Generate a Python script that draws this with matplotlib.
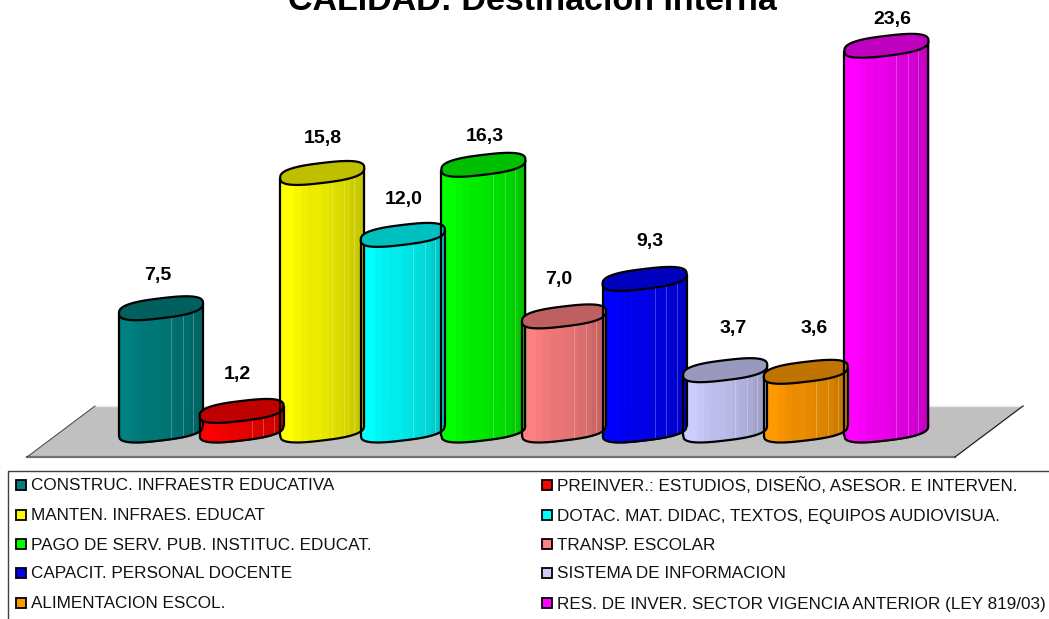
import numpy as np
import matplotlib
matplotlib.use("Agg")
from matplotlib import pyplot as plt
from matplotlib.colors import to_rgb

plt.rcParams['font.family'] = ['Liberation Sans', 'DejaVu Sans']

title = "CALIDAD: Destinación Interna"
categories = [
    "CONSTRUC. INFRAESTR EDUCATIVA",
    "PREINVER.: ESTUDIOS, DISEÑO, ASESOR. E INTERVEN.",
    "MANTEN. INFRAES. EDUCAT",
    "DOTAC. MAT. DIDAC, TEXTOS, EQUIPOS AUDIOVISUA.",
    "PAGO DE SERV. PUB. INSTITUC. EDUCAT.",
    "TRANSP. ESCOLAR",
    "CAPACIT. PERSONAL DOCENTE",
    "SISTEMA DE INFORMACION",
    "ALIMENTACION ESCOL.",
    "RES. DE INVER. SECTOR VIGENCIA ANTERIOR (LEY 819/03)",
]
values = [7.5, 1.2, 15.8, 12.0, 16.3, 7.0, 9.3, 3.7, 3.6, 23.6]
colors = ["#008080", "#FF0000", "#FFFF00", "#00FFFF", "#00FF00",
          "#FF8080", "#0000FF", "#CCCCFF", "#FF9900", "#FF00FF"]
# hand placed label shifts, pixels from the top of each bar
label_dx = [-3, -4, 1, 1, 1, -5, 5, 8, 8, 6]
label_dy = [33, 36, 34, 35, 28, 37, 37, 42, 43, 26]

W, H = 1049, 619
X0, DX = 161.0, 80.6     # pixel of first bar, pixels per bar
Y0, DY = 430.5, 16.3     # pixel of value 0, pixels per unit

HALF_W = 42.0 / DX
B = 10.0 / DY
TILT = 5.0 / DY
P = 2.7

shades = [1.0, 1.0, 0.97, 0.94, 0.92, 0.92, 0.9, 0.88, 0.86, 0.84, 0.8, 0.78]


def lower_rim(x):
    u = np.clip(np.abs(x) / HALF_W, 0, 1)
    return TILT * x / HALF_W - B * (1 - u ** P) ** (1 / P)


def section():
    """Closed outline of the tilted bar section."""
    t = np.linspace(0, 2 * np.pi, 361)
    c, s = np.cos(t), np.sin(t)
    x = HALF_W * np.sign(c) * np.abs(c) ** (2 / P)
    y = B * np.sign(s) * np.abs(s) ** (2 / P) + TILT * x / HALF_W
    return x, y


def cylinder(ax, i, v, color):
    rgb = np.array(to_rgb(color))
    xs = np.linspace(-HALF_W, HALF_W, len(shades) + 1)
    for k, s in enumerate(shades):
        x = np.linspace(xs[k], xs[k + 1], 12)
        ax.fill_between(i + x, lower_rim(x), v + lower_rim(x), color=rgb * s, lw=0.6)
    for f in (0.62, 0.76, 0.88):
        x = -HALF_W + 2 * HALF_W * f
        ax.plot([i + x, i + x], [lower_rim(x), v + lower_rim(x)],
                color='white', alpha=0.25, lw=0.7)

    sx, sy = section()
    low = np.linspace(-HALF_W, HALF_W, 120)
    ax.plot(i + low, lower_rim(low), color='black', lw=1.6, solid_capstyle='butt')
    ax.plot([i - HALF_W] * 2, [lower_rim(low[0]), v + lower_rim(low[0])],
            color='black', lw=1.6, solid_capstyle='butt')
    ax.plot([i + HALF_W] * 2, [lower_rim(low[-1]), v + lower_rim(low[-1])],
            color='black', lw=1.6, solid_capstyle='butt')
    ax.fill(i + sx, v + sy, facecolor=rgb * 0.75, edgecolor='black', lw=1.6,
            joinstyle='round', zorder=3)


fig = plt.figure(figsize=(W / 100, H / 100), dpi=100, facecolor='white')

# page layer in pixels: floor, title, legend
page = fig.add_axes([0, 0, 1, 1])
page.set_xlim(0, W)
page.set_ylim(H, 0)
page.axis('off')

page.fill([95, 1023, 955, 27], [406, 406, 457, 457], color='#C0C0C0', lw=0)
page.plot([95, 1023], [405.5, 405.5], color='#E8E8E8', lw=1)
page.plot([27, 955], [457, 457], color='#707070', lw=1.6)
page.plot([955, 1023], [457, 406], color='#202020', lw=0.9)
page.plot([27, 95], [457, 406], color='#404040', lw=0.7)

page.text(532, 10, title, fontsize=24.5, fontweight='bold', ha='center', va='baseline')

page.plot([8, 8, W], [H, 471, 471], color='#404040', lw=1)
rows = [486, 516, 545, 574, 604]
for n, (name, c) in enumerate(zip(categories, colors)):
    x = 21 if n % 2 == 0 else 547
    y = rows[n // 2]
    page.plot(x, y - 1, 's', ms=6.5, mfc=c, mec='black', mew=1.3)
    page.text(x + 10, y, name, fontsize=12.3, ha='left', va='center', color='#111111')

# chart layer in category / value units
ax = fig.add_axes([0, 0, 1, 1])
ax.patch.set_alpha(0)
ax.set_xlim(-X0 / DX, (W - X0) / DX)
ax.set_ylim((Y0 - H) / DY, Y0 / DY)
ax.axis('off')

for i, (v, c) in enumerate(zip(values, colors)):
    # each bar sits over the one on its left
    z = i * 10
    n_before = len(ax.get_children())
    cylinder(ax, i, v, c)
    for art in ax.get_children()[n_before:]:
        art.set_zorder(z + art.get_zorder())
    ax.annotate(f"{v:.1f}".replace('.', ','), (i, v),
                xytext=(label_dx[i] * 0.72, label_dy[i] * 0.72), textcoords='offset points',
                ha='center', va='center', fontsize=14, fontweight='bold', zorder=500)

fig.savefig('out.png', dpi=100)
